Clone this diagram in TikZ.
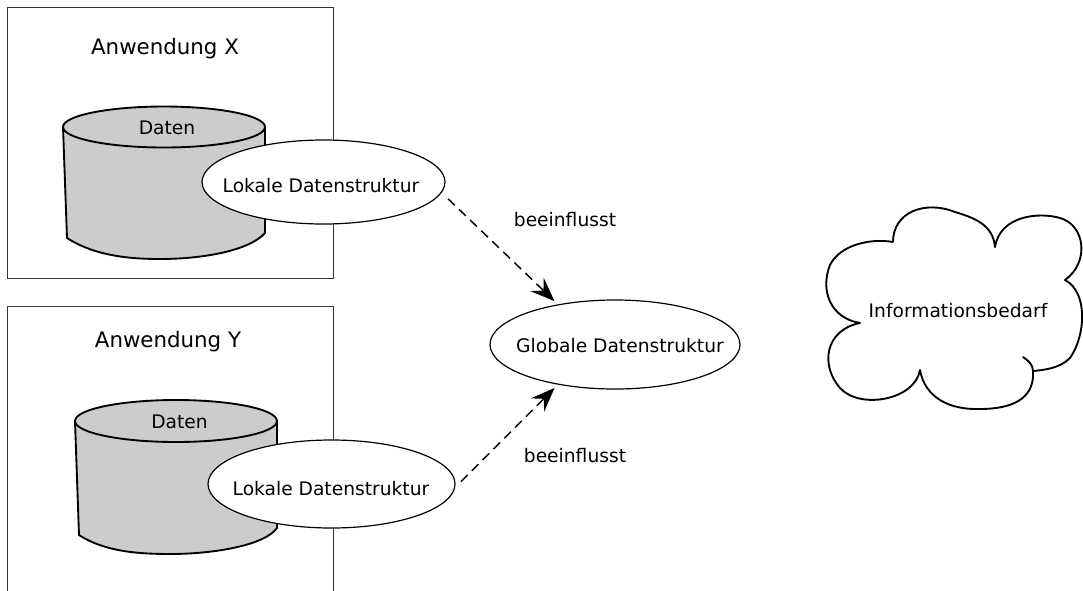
\documentclass[tikz,border=0pt]{standalone}
\usepackage{fontspec}
\setmainfont{DejaVu Sans}
\usetikzlibrary{arrows.meta,shapes.geometric}
\definecolor{datengrau}{RGB}{204,204,204}

\begin{document}
\begin{tikzpicture}[x=0.75pt,y=0.75pt,yscale=-1,xscale=1,
  appbox/.style={draw=black!80, line width=0.75pt},
  dbshape/.style={draw=black, fill=datengrau, line width=1.4pt, line join=round},
  struktur/.style={ellipse, draw=black, fill=white, line width=0.9pt, inner sep=0pt, outer sep=0pt},
  txt/.style={inner sep=0.75pt, font=\fontsize{14pt}{16pt}\selectfont},
  titel/.style={inner sep=0.75pt, font=\fontsize{16pt}{19pt}\selectfont},
  einfluss/.style={line width=1.1pt, dash pattern=on 7pt off 4.5pt, -{Stealth[length=18pt,width=14pt,inset=6.5pt]}, shorten <=7pt, shorten >=4pt},
  cloudline/.style={line width=1.4pt, line join=round, line cap=round}]
\useasboundingbox (0,0) rectangle (1083,590);
\fill[white] (0,0) rectangle (1083,590);

%Shape: Rectangle [Anwendung X]
\draw[appbox] (7.5,7) rectangle (333.5,278);
%Shape: Open rectangle [Anwendung Y]
\draw[appbox] (7.5,600) -- (7.5,306) -- (333.5,306) -- (333.5,600);

%Shape: Can [Daten X]
\draw[dbshape] (63,127) -- (67,238) .. controls (95,256) and (130,259) .. (160,259) .. controls (205,259) and (250,250) .. (265,233) -- (265,127);
\draw[dbshape] (164,127) ellipse [x radius=101, y radius=20.5];
%Shape: Can [Daten Y]
\draw[dbshape] (75,421) -- (79,535) .. controls (105,552) and (140,554) .. (170,554) .. controls (215,554) and (265,545) .. (277,528) -- (277,421);
\draw[dbshape] (176,421) ellipse [x radius=101, y radius=21];

%Shape: Ellipse
\node[struktur, minimum width=182.25pt, minimum height=63pt] (lokx) at (323.5,182) {};
\node[struktur, minimum width=185.25pt, minimum height=66pt] (loky) at (331.5,484) {};
\node[struktur, minimum width=187.5pt, minimum height=66.75pt] (glob) at (615,344.5) {};

%Shape: Cloud
\draw[cloudline] (893,242) .. controls (893,212) and (925,200) .. (955,212) .. controls (975,218) and (993,225) .. (995,247)
  .. controls (1000,215) and (1040,212) .. (1060,218) .. controls (1085,225) and (1090,262) .. (1065,280)
  .. controls (1088,292) and (1086,335) .. (1070,358) .. controls (1060,368) and (1045,370) .. (1033,371)
  .. controls (1035,400) and (1010,409) .. (980,409) .. controls (950,410) and (925,398) .. (920,370)
  .. controls (915,400) and (860,410) .. (840,388) .. controls (820,365) and (825,330) .. (860,323)
  .. controls (830,318) and (820,290) .. (830,265) .. controls (840,245) and (870,238) .. (893,242);
\draw[cloudline] (1023,357) .. controls (1029,361) and (1033,365) .. (1033,371);

%Straight Lines
\draw[einfluss] (lokx.-5) -- (glob.145);
\draw[einfluss] (loky.-2) -- (glob.-145);

% Text Node
\node[titel] (titelx) at (165,49) {Anwendung X};
\node[titel] (titely) at (168,342) {Anwendung Y};
\node[txt] (datenx) at (167,127.5) {Daten};
\node[txt] (dateny) at (179.5,421.5) {Daten};
\node[txt] (lokxtxt) at (321,186) {Lokale Datenstruktur};
\node[txt] (lokytxt) at (331,489) {Lokale Datenstruktur};
\node[txt] (globtxt) at (620,346) {Globale Datenstruktur};
\node[txt] (einflx) at (565,220) {beeinflusst};
\node[txt] (einfly) at (575,456) {beeinflusst};
\node[txt] (bedarf) at (958,311) {Informationsbedarf};

\end{tikzpicture}
\end{document}
